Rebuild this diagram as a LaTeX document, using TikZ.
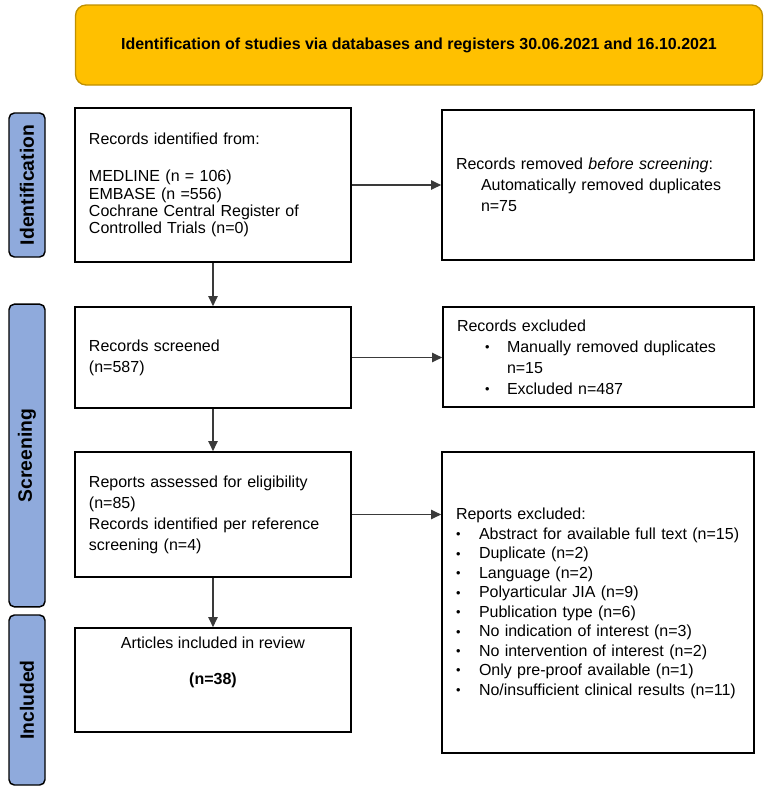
\documentclass[tikz,border=0pt]{standalone}
\usepackage{fontspec}
\setmainfont{Liberation Sans}
\usepackage{graphicx}
\usetikzlibrary{arrows.meta,calc}
\definecolor{gold}{HTML}{FFC000}
\definecolor{golddark}{HTML}{BF9000}
\definecolor{phase}{HTML}{8FAADC}
\definecolor{arrowgray}{HTML}{3A3A3A}
\newcommand\smbul{\raisebox{0.5pt}{\scalebox{0.8}{\textbullet}}}
\begin{document}
\begin{tikzpicture}[x=0.75pt,y=-0.75pt,
  box/.style={draw=black,line width=1.3pt,fill=white,inner xsep=10.5pt,inner ysep=0pt,align=left,font=\fontsize{12pt}{15.75pt}\selectfont},
  phasebox/.style={draw=black,line width=1.1pt,fill=phase,rounded corners=4pt,rotate=90,minimum height=27pt,inner sep=0pt,font=\fontsize{14.5pt}{16pt}\selectfont\bfseries},
  arr/.style={draw=arrowgray,line width=1pt,-{Triangle[length=7.5pt,width=7pt]}}
]
\useasboundingbox (0,0) rectangle (765,801);

\node[draw=golddark,line width=1pt,fill=gold,rounded corners=8pt,minimum width=515.25pt,minimum height=60pt,inner sep=0pt,font=\fontsize{12pt}{14pt}\selectfont\bfseries] (banner) at (419,45) {Identification of studies via databases and registers 30.06.2021 and 16.10.2021};

\node[phasebox,minimum width=108pt] (p1) at (27,185) {Identification};
\node[phasebox,minimum width=227pt] (p2) at (27,455.5) {Screening};
\node[phasebox,minimum width=127.5pt] (p3) at (27,700) {Included};

\node[box,text width=186pt,minimum height=115.5pt,font=\fontsize{12pt}{13pt}\selectfont] (A) at (213,185)
 {Records identified from:\\[15pt]
  MEDLINE (n = 106)\\
  EMBASE (n =556)\\
  Cochrane Central Register of\\
  Controlled Trials (n=0)};

\node[box,text width=213pt,minimum height=112.5pt] (B) at (598,185)
 {Records removed \textit{before screening}:\\
  \hspace*{18.75pt}Automatically removed duplicates\\
  \hspace*{18.75pt}n=75};

\node[box,text width=186pt,minimum height=75.75pt] (C) at (213,357.5)
 {Records screened\\(n=587)};

\node[box,text width=212.25pt,minimum height=75pt] (D) at (598.5,357)
 {Records excluded\\
  \hspace*{21pt}\makebox[16.5pt][l]{\smbul}Manually removed duplicates\\
  \hspace*{37.5pt}n=15\\
  \hspace*{21pt}\makebox[16.5pt][l]{\smbul}Excluded n=487};

\node[box,text width=186pt,minimum height=93.75pt] (E) at (213,514.5)
 {Reports assessed for eligibility\\
  (n=85)\\
  Records identified per reference\\
  screening (n=4)};

\node[box,text width=213pt,minimum height=225.75pt,font=\fontsize{12pt}{14.6pt}\selectfont] (F) at (598,602.5)
 {\rule{0pt}{10pt}Reports excluded:\\
  \makebox[17.25pt][l]{\smbul}Abstract for available full text (n=15)\\
  \makebox[17.25pt][l]{\smbul}Duplicate (n=2)\\
  \makebox[17.25pt][l]{\smbul}Language (n=2)\\
  \makebox[17.25pt][l]{\smbul}Polyarticular JIA (n=9)\\
  \makebox[17.25pt][l]{\smbul}Publication type (n=6)\\
  \makebox[17.25pt][l]{\smbul}No indication of interest (n=3)\\
  \makebox[17.25pt][l]{\smbul}No intervention of interest (n=2)\\
  \makebox[17.25pt][l]{\smbul}Only pre-proof available (n=1)\\
  \makebox[17.25pt][l]{\smbul}No/insufficient clinical results (n=11)};

\node[box,minimum width=207pt,minimum height=78pt,
  label={[name=Gt,anchor=north,yshift=-4pt,align=center,font=\fontsize{12pt}{15.75pt}\selectfont]north:{Articles included in review\\[11.25pt]\textbf{(n=38)}}}] (G) at (213,680) {};

\draw[arr] (A.south) -- (C.north);
\draw[arr] (A.east) -- (B.west);
\draw[arr] (C.east) -- (C.east -| D.west);
\draw[arr] (C.south) -- (E.north);
\draw[arr] (E.east) -- (E.east -| F.west);
\draw[arr] (E.south) -- (G.north);
\end{tikzpicture}
\end{document}
